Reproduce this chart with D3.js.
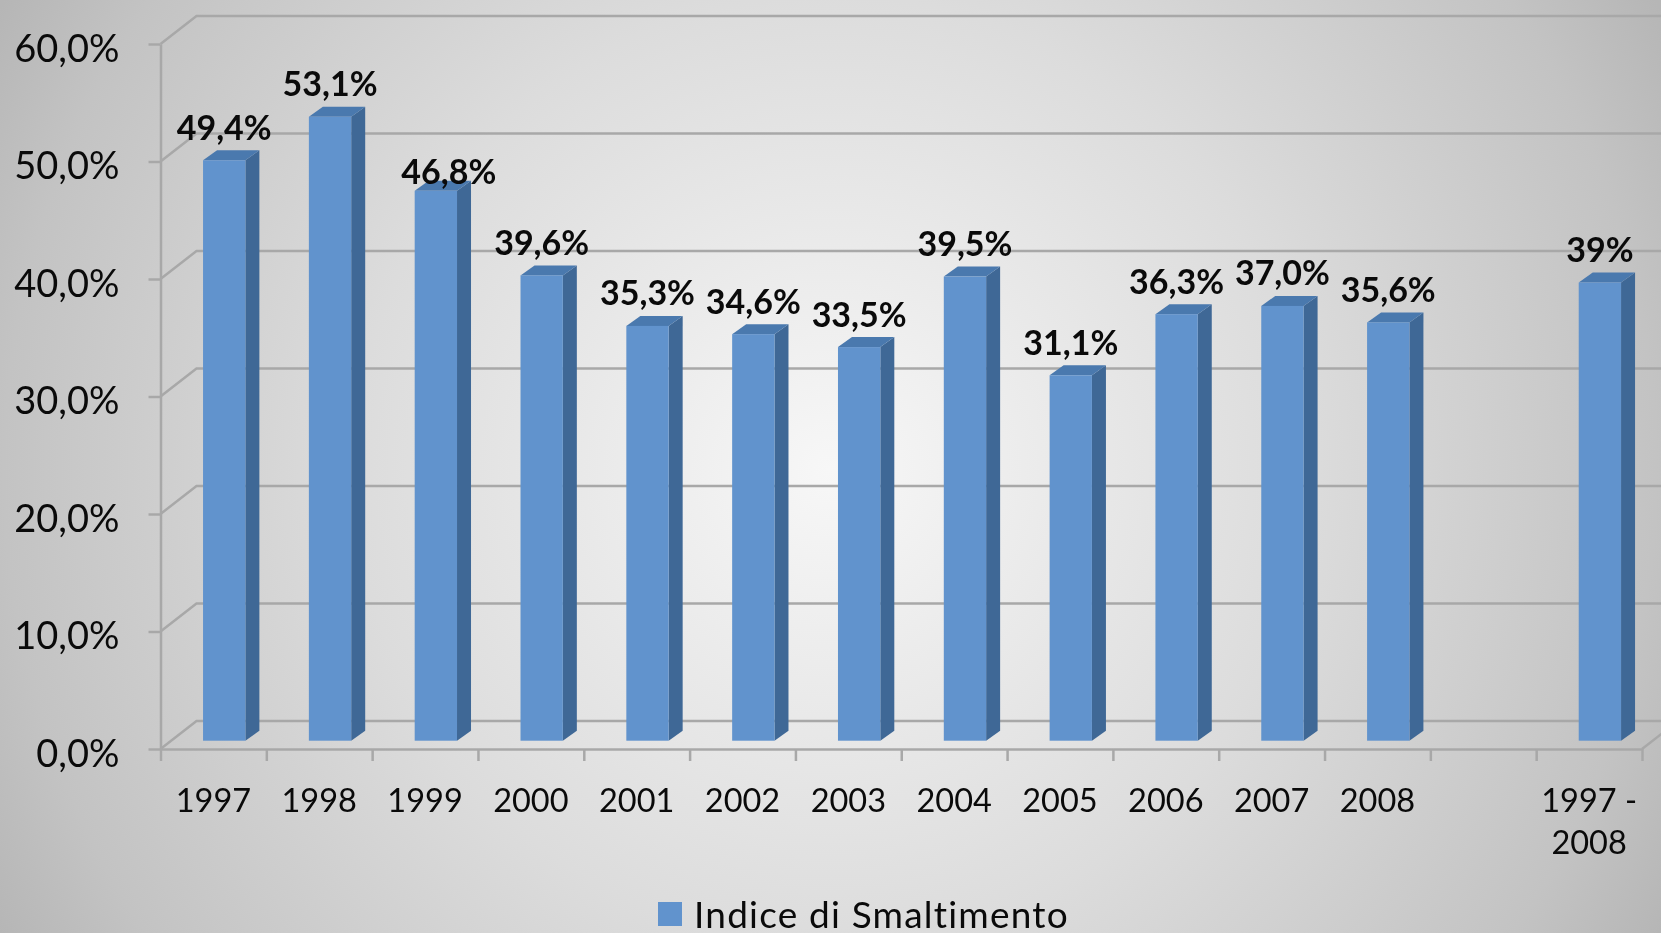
<!DOCTYPE html>
<html>
<head>
<meta charset="utf-8">
<script src="https://cdn.jsdelivr.net/npm/d3@7"></script>
<style>
html,body{margin:0;padding:0;background:#ccc;overflow:hidden;}
svg{display:block;filter:blur(0.6px);}
text{font-family:Lato,"Open Sans",sans-serif;fill:#0a0a0a;}
</style>
</head>
<body>
<script>
var categories=["1997","1998","1999","2000","2001","2002","2003","2004","2005","2006","2007","2008","","1997 - 2008"];
var values=[49.4,53.1,46.8,39.6,35.3,34.6,33.5,39.5,31.1,36.3,37.0,35.6,null,39];
var valueLabels=["49,4%","53,1%","46,8%","39,6%","35,3%","34,6%","33,5%","39,5%","31,1%","36,3%","37,0%","35,6%","","39%"];
var yTicks=[0,10,20,30,40,50,60];
var seriesName="Indice di Smaltimento";

var width=1661, height=933;
var left=160.5, right=1642, top0=44, bottom0=749;
var wallX=36, wallY=-28;     // shift from front axes to back wall
var depthX=14, depthY=-10;   // bar side
var barShiftX=10.8, barShiftY=-8.3;
var gridColor="#a8a8a8";

var svg=d3.select("body").append("svg")
    .attr("width",width)
    .attr("height",height);

var defs=svg.append("defs");
var bg=defs.append("radialGradient")
    .attr("id","bg")
    .attr("gradientUnits","userSpaceOnUse")
    .attr("cx",830).attr("cy",470).attr("r",950);
bg.append("stop").attr("offset","0%").attr("stop-color","#f7f7f7");
bg.append("stop").attr("offset","50%").attr("stop-color","#dcdcdc");
bg.append("stop").attr("offset","87%").attr("stop-color","#c3c3c3");
bg.append("stop").attr("offset","100%").attr("stop-color","#b6b6b6");

svg.append("rect")
    .attr("width",width)
    .attr("height",height)
    .attr("fill","url(#bg)");

var y=d3.scaleLinear().domain([0,60]).range([bottom0,top0]);
var x=d3.scaleBand().domain(d3.range(categories.length))
    .range([left,right]).paddingInner(0.6).paddingOuter(0.3);
var slots=d3.scaleBand().domain(d3.range(categories.length)).range([left,right]);
var xTicks=d3.scaleLinear().domain([0,categories.length]).range([left,right]);

// grid: diagonal on the side wall, then along the back wall
var grid=svg.append("g").attr("fill","none").attr("stroke",gridColor).attr("stroke-width",2.5);
grid.selectAll("path")
    .data(yTicks)
    .enter().append("path")
    .attr("d",function(d){
        return d3.line()([[left,y(d)],[left+wallX,y(d)+wallY],[width+10,y(d)+wallY]]);
    });
grid.append("path")
    .attr("d",d3.line()([[right,bottom0],[right+wallX,bottom0+wallY]]));

// axes
var yAxis=d3.axisLeft(y).tickValues(yTicks).tickSize(12).tickSizeOuter(0)
    .tickPadding(29)
    .tickFormat(function(d){return d3.format(".1f")(d).replace(".",",")+"%";});
var gy=svg.append("g").attr("transform","translate("+left+",0)").call(yAxis);
gy.selectAll("text").attr("font-size",38).attr("dy","0.46em").style("font-family","Lato");

var xAxis=d3.axisBottom(xTicks).tickValues(d3.range(categories.length+1)).tickSize(12).tickSizeOuter(0)
    .tickFormat("");
var gx=svg.append("g").attr("transform","translate(0,"+bottom0+")").call(xAxis);
svg.selectAll(".domain,.tick line").attr("stroke",gridColor).attr("stroke-width",2.5);

// category labels, long one wraps in two lines
var cat=svg.append("g").attr("text-anchor","middle").attr("font-size",32.5);
categories.forEach(function(c,i){
    var parts=c.indexOf(" - ")>0 ? [c.split(" - ")[0]+" -",c.split(" - ")[1]] : [c];
    cat.selectAll(null)
        .data(parts)
        .enter().append("text")
        .attr("x",slots(i)+slots.bandwidth()/2)
        .attr("y",function(d,k){return 812+k*42;})
        .text(function(d){return d;});
});

// bars
var idx=d3.range(values.length).filter(function(i){return values[i]!==null;});
var bars=svg.selectAll("g.bar")
    .data(idx)
    .enter().append("g")
    .attr("class","bar");

function bx0(i){return x(i)+barShiftX;}
function bx1(i){return bx0(i)+x.bandwidth();}
function by0(){return y(0)+barShiftY;}
function by1(i){return y(values[i])+barShiftY;}

bars.append("polygon")
    .attr("fill","#3f6896")
    .attr("points",function(i){
        return [[bx1(i),by0()],[bx1(i)+depthX,by0()+depthY],[bx1(i)+depthX,by1(i)+depthY],[bx1(i),by1(i)]].join(" ");
    });
bars.append("polygon")
    .attr("fill","#4a79ae")
    .attr("points",function(i){
        return [[bx0(i),by1(i)],[bx0(i)+depthX,by1(i)+depthY],[bx1(i)+depthX,by1(i)+depthY],[bx1(i),by1(i)]].join(" ");
    });
bars.append("rect")
    .attr("fill","#6193cd")
    .attr("x",bx0)
    .attr("y",by1)
    .attr("width",x.bandwidth())
    .attr("height",function(i){return by0()-by1(i);});

// value labels; 1999 was moved by hand in the original
svg.selectAll("text.val")
    .data(idx)
    .enter().append("text")
    .attr("class","val")
    .attr("text-anchor","middle")
    .attr("font-size",34)
    .attr("font-weight","bold")
    .attr("x",function(i){return bx0(i)+x.bandwidth()/2+(i==2?13:0);})
    .attr("y",function(i){return by1(i)+(i==2?-6.5:-20.5);})
    .text(function(i){return valueLabels[i];});

// legend
svg.append("rect")
    .attr("x",658).attr("y",902)
    .attr("width",24).attr("height",24)
    .attr("fill","#6193cd");
svg.append("text")
    .attr("x",694).attr("y",928)
    .attr("font-size",37)
    .attr("letter-spacing",1.2)
    .text(seriesName);
</script>
</body>
</html>
